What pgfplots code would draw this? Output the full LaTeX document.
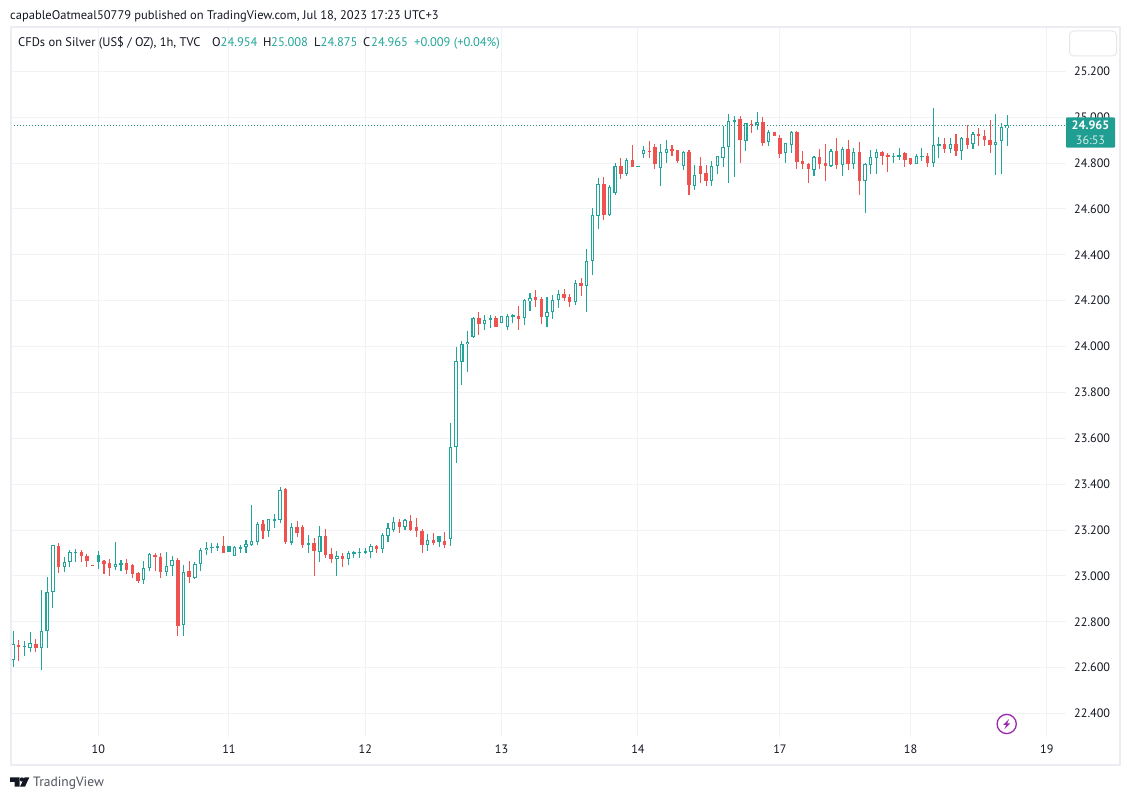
\documentclass[border=0pt]{standalone}
\usepackage{pgfplots}
\usepackage{pgfplotstable}
\usepackage{fontspec}
\setmainfont{PT Sans}
\pgfplotsset{compat=1.18}
\definecolor{upc}{HTML}{22A699}
\definecolor{dnc}{HTML}{EF5350}
\definecolor{gridc}{HTML}{F1F2F6}
\definecolor{framec}{HTML}{ECEDF2}
\definecolor{inkc}{HTML}{131722}
\definecolor{logoc}{HTML}{50535E}
\definecolor{purp}{HTML}{9C27B0}
\pgfplotstableread{
x o h l c
0 22.633 22.760 22.601 22.702
2 22.692 22.717 22.653 22.694
3 22.688 22.755 22.670 22.707
5 22.685 22.939 22.592 22.759
6 22.759 22.996 22.688 22.929
7 22.929 23.134 22.862 23.134
9 23.041 23.082 23.019 23.060
10 23.060 23.114 23.041 23.103
11 23.102 23.118 23.063 23.105
18 23.041 23.148 23.028 23.051
19 23.050 23.070 23.023 23.056
23 22.981 23.066 22.963 23.034
24 23.034 23.099 23.023 23.095
27 23.016 23.105 23.002 23.042
28 23.042 23.087 23.002 23.069
30 22.785 23.048 22.740 23.016
32 22.993 23.061 22.989 23.051
33 23.051 23.121 23.023 23.112
34 23.112 23.148 23.093 23.124
35 23.124 23.144 23.102 23.127
36 23.124 23.144 23.111 23.130
39 23.089 23.131 23.089 23.127
40 23.119 23.134 23.102 23.125
41 23.128 23.156 23.102 23.138
42 23.137 23.310 23.131 23.151
43 23.150 23.234 23.133 23.226
45 23.198 23.249 23.172 23.247
46 23.241 23.271 23.211 23.247
47 23.246 23.387 23.233 23.374
49 23.146 23.231 23.133 23.212
52 23.137 23.179 23.102 23.143
54 23.106 23.218 23.063 23.173
57 23.076 23.109 23.000 23.086
59 23.076 23.109 23.050 23.099
60 23.099 23.108 23.080 23.103
61 23.102 23.121 23.080 23.103
62 23.102 23.121 23.101 23.108
63 23.106 23.140 23.079 23.130
65 23.119 23.188 23.102 23.178
66 23.176 23.231 23.150 23.208
67 23.202 23.257 23.191 23.234
69 23.215 23.249 23.202 23.243
73 23.133 23.182 23.111 23.156
77 23.160 23.666 23.132 23.561
78 23.561 23.997 23.494 23.936
79 23.934 24.025 23.833 24.010
80 24.010 24.068 23.891 24.019
81 24.044 24.129 24.039 24.124
83 24.100 24.137 24.074 24.118
84 24.118 24.137 24.083 24.124
86 24.102 24.132 24.102 24.132
87 24.087 24.141 24.074 24.132
88 24.132 24.142 24.105 24.137
90 24.124 24.206 24.092 24.202
91 24.198 24.234 24.153 24.211
94 24.131 24.215 24.087 24.150
95 24.150 24.225 24.122 24.202
96 24.202 24.247 24.170 24.228
99 24.193 24.289 24.183 24.276
101 24.266 24.424 24.152 24.372
102 24.372 24.604 24.314 24.573
103 24.571 24.735 24.511 24.709
105 24.574 24.705 24.571 24.696
106 24.671 24.799 24.661 24.788
108 24.754 24.821 24.744 24.814
110 24.784 24.787 24.784 24.787
111 24.841 24.875 24.822 24.856
114 24.780 24.883 24.700 24.847
115 24.846 24.901 24.801 24.860
118 24.789 24.853 24.772 24.847
120 24.702 24.790 24.684 24.747
123 24.721 24.809 24.700 24.788
124 24.786 24.831 24.753 24.830
125 24.824 24.962 24.783 24.869
126 24.869 25.014 24.713 24.982
127 24.981 25.005 24.740 24.988
129 24.898 24.975 24.853 24.973
131 24.968 25.023 24.944 24.979
133 24.891 24.944 24.875 24.936
136 24.846 24.888 24.801 24.886
137 24.881 24.939 24.844 24.934
141 24.772 24.830 24.744 24.825
144 24.789 24.862 24.788 24.853
146 24.793 24.870 24.744 24.862
148 24.796 24.866 24.774 24.849
150 24.722 24.801 24.583 24.796
151 24.793 24.857 24.753 24.827
152 24.824 24.862 24.753 24.849
155 24.828 24.844 24.801 24.831
156 24.828 24.866 24.814 24.836
159 24.796 24.840 24.796 24.831
160 24.827 24.866 24.809 24.831
162 24.802 25.040 24.783 24.879
163 24.875 24.914 24.822 24.883
165 24.862 24.910 24.844 24.883
167 24.854 24.914 24.814 24.910
169 24.885 24.936 24.862 24.927
173 24.881 25.014 24.748 24.892
174 24.895 24.975 24.753 24.958
175 24.954 25.008 24.875 24.965
}\upcandles
\pgfplotstableread{
x o h l c
15 23.092 23.109 23.032 23.063
38 23.131 23.131 23.106 23.106
75 23.175 23.175 23.127 23.150
}\upfilled
\pgfplotstableread{
x o h l c
1 22.699 22.721 22.631 22.692
4 22.704 22.726 22.670 22.684
8 23.131 23.144 23.015 23.041
12 23.103 23.114 23.063 23.085
13 23.087 23.096 23.041 23.067
14 23.048 23.048 23.044 23.044
16 23.066 23.071 23.009 23.054
17 23.057 23.074 23.000 23.037
20 23.056 23.074 23.009 23.028
21 23.048 23.053 22.993 23.010
22 23.013 23.018 22.971 22.980
25 23.092 23.101 23.023 23.085
26 23.082 23.101 22.993 23.019
29 23.070 23.079 22.740 22.784
31 23.021 23.066 22.971 22.997
37 23.130 23.175 23.102 23.102
44 23.226 23.243 23.163 23.198
48 23.380 23.384 23.141 23.150
50 23.212 23.240 23.170 23.189
51 23.214 23.221 23.124 23.133
53 23.143 23.166 23.000 23.109
55 23.175 23.204 23.080 23.093
56 23.096 23.121 23.058 23.076
58 23.086 23.101 23.040 23.076
64 23.130 23.134 23.102 23.119
68 23.236 23.249 23.189 23.215
70 23.240 23.266 23.194 23.202
71 23.214 23.253 23.172 23.194
72 23.195 23.204 23.102 23.133
74 23.157 23.188 23.133 23.144
76 23.153 23.192 23.122 23.137
82 24.124 24.151 24.052 24.100
85 24.125 24.132 24.087 24.087
89 24.132 24.177 24.074 24.121
92 24.215 24.247 24.174 24.203
93 24.206 24.215 24.100 24.131
97 24.230 24.251 24.199 24.214
98 24.215 24.231 24.174 24.193
100 24.276 24.299 24.222 24.266
104 24.709 24.740 24.552 24.574
107 24.788 24.822 24.731 24.753
109 24.814 24.879 24.783 24.783
112 24.853 24.897 24.824 24.849
113 24.870 24.883 24.774 24.796
116 24.862 24.879 24.831 24.854
117 24.857 24.857 24.801 24.809
119 24.849 24.857 24.661 24.706
121 24.788 24.827 24.713 24.753
122 24.757 24.792 24.700 24.722
128 24.992 25.005 24.801 24.901
130 24.971 24.988 24.931 24.968
132 24.979 25.001 24.875 24.888
134 24.936 24.936 24.918 24.918
135 24.910 24.923 24.822 24.840
138 24.936 24.940 24.774 24.805
139 24.809 24.853 24.774 24.796
140 24.796 24.799 24.713 24.774
142 24.827 24.862 24.774 24.796
143 24.801 24.883 24.722 24.788
145 24.853 24.910 24.774 24.792
147 24.862 24.901 24.770 24.796
149 24.849 24.892 24.661 24.722
153 24.849 24.853 24.792 24.831
154 24.836 24.844 24.761 24.827
157 24.844 24.849 24.783 24.814
158 24.822 24.822 24.793 24.796
161 24.831 24.844 24.783 24.801
164 24.883 24.910 24.844 24.862
166 24.883 24.927 24.831 24.853
168 24.910 24.965 24.862 24.879
170 24.927 24.953 24.875 24.918
171 24.918 24.944 24.875 24.901
172 24.901 24.988 24.844 24.879
}\downcandles
\newcommand{\tickfont}{\fontsize{12.2}{15}\selectfont}
\newcommand{\headfont}{\fontsize{12.5}{15}\selectfont}
\pgfplotsset{
  body/.style 2 args={draw=none,mark=none,forget plot,
    error bars/.cd,y dir=both,y explicit,error mark=none,
    error bar style={line width=#2,color=#1}},
}
\newcommand{\wicks}[2]{%
  \addplot[body={#2}{1.05pt}] table[x=x,y=o,
    y error plus expr={\thisrow{h}-\thisrow{o}},
    y error minus expr={\thisrow{o}-\thisrow{l}}] {#1};}
\newcommand{\bodies}[2]{%
  \addplot[body={#2}{3.4pt}] table[x=x,y expr={(\thisrow{o}+\thisrow{c})/2},
    y error plus expr={max(abs(\thisrow{c}-\thisrow{o})/2,0.0025)},
    y error minus expr={max(abs(\thisrow{c}-\thisrow{o})/2,0.0025)}] {#1};}
\begin{document}
\begin{tikzpicture}
\path[use as bounding box,fill=white] (0,0) rectangle (1130pt,800pt);
\begin{axis}[
  at={(11pt,63pt)},anchor=south west,scale only axis,width=1055pt,height=709pt,
  xmin=-0.37,xmax=185.37,ymin=22.298,ymax=25.389,
  axis line style={draw=none},major tick length=0pt,
  grid=major,grid style={gridc,line width=1pt},
  xtick={15,38,62,86,110,135,158,182},
  xticklabels={10,11,12,13,14,17,18,19},
  ytick={22.4,22.6,22.8,23.0,23.2,23.4,23.6,23.8,24.0,24.2,24.4,24.6,24.8,25.0,25.2},
  yticklabel pos=right,
  /pgf/number format/.cd,fixed,fixed zerofill,precision=3,assume math mode=true,1000 sep={},
  /pgfplots/.cd,
  tick label style={font=\tickfont,text=inkc},
  yticklabel style={anchor=west,inner sep=0pt,xshift=8pt},
  xticklabel style={anchor=north,inner sep=0pt,yshift=-8pt},
]
\addplot[upc!85!black,line width=1pt,dash pattern=on 1pt off 2pt,forget plot] coordinates {(-0.37,24.965) (185.37,24.965)};
\wicks{\upcandles}{upc}
\wicks{\upfilled}{upc}
\wicks{\downcandles}{dnc}
\bodies{\upcandles}{upc}
\bodies{\upfilled}{upc}
\bodies{\downcandles}{dnc}
\addplot[body={white}{1.3pt}] table[x=x,y expr={(\thisrow{o}+\thisrow{c})/2},
    y error plus expr={max((\thisrow{c}-\thisrow{o})/2-0.0044,0)},
    y error minus expr={max((\thisrow{c}-\thisrow{o})/2-0.0044,0)}] {\upcandles};
\end{axis}
\begin{scope}[x=1pt,y=-1pt,yshift=800pt]
  \draw[framec,line width=2pt] (10.5,27) rectangle (1120,765);
  \fill[upc!95!black,rounded corners=1pt] (1066,117.3) rectangle (1115,147.7);
  \node[anchor=center,inner sep=0pt,text=white,font=\tickfont\bfseries] at (1090.5,125.5) {24.965};
  \node[anchor=center,inner sep=0pt,text=white!80!upc,font=\tickfont] at (1090.5,140) {36:53};
  \draw[framec!80!gray!60!white,line width=1pt,rounded corners=4pt,fill=white] (1069.5,31) rectangle (1116.5,56);
  \draw[purp,line width=1.3pt] (1006.7,724) circle[radius=9.6];
  \fill[purp] (1009.2,719) -- (1003.2,725) -- (1006.3,725) -- (1004.3,729.3) -- (1010.3,723.3) -- (1007.2,723.3) -- cycle;
  \node[anchor=base west,inner sep=0pt,text=inkc,font=\headfont] at (10,19.5) {capableOatmeal50779 published on TradingView.com, Jul 18, 2023 17:23 UTC+3};
  \node[anchor=base west,inner sep=0pt,text=inkc,font=\headfont] at (18,46.5) {CFDs on Silver (US\$ / OZ), 1h, TVC};
  \node[anchor=base west,inner sep=0pt,text=inkc,font=\headfont] at (212,46.5) {O};
  \node[anchor=base west,inner sep=0pt,text=upc,font=\headfont] at (220.5,46.5) {24.954};
  \node[anchor=base west,inner sep=0pt,text=inkc,font=\headfont] at (263,46.5) {H};
  \node[anchor=base west,inner sep=0pt,text=upc,font=\headfont] at (271,46.5) {25.008};
  \node[anchor=base west,inner sep=0pt,text=inkc,font=\headfont] at (314,46.5) {L};
  \node[anchor=base west,inner sep=0pt,text=upc,font=\headfont] at (320.5,46.5) {24.875};
  \node[anchor=base west,inner sep=0pt,text=inkc,font=\headfont] at (363,46.5) {C};
  \node[anchor=base west,inner sep=0pt,text=upc,font=\headfont] at (371,46.5) {24.965};
  \node[anchor=base west,inner sep=0pt,text=upc,font=\headfont] at (414,46.5) {+0.009 (+0.04\%)};
  \fill[inkc] (10,777.3) -- (19.5,777.3) -- (19.5,786.7) -- (14.5,786.7) -- (14.5,782) -- (10,782) -- cycle;
  \fill[inkc] (22,779.5) circle[radius=2.2];
  \fill[inkc] (24.6,777.3) -- (29.3,777.3) -- (25,786.7) -- (20,786.7) -- cycle;
  \node[anchor=base west,inner sep=0pt,text=logoc,font=\fontsize{13.5}{15}\selectfont] at (33,787) {TradingView};
\end{scope}
\end{tikzpicture}
\end{document}
